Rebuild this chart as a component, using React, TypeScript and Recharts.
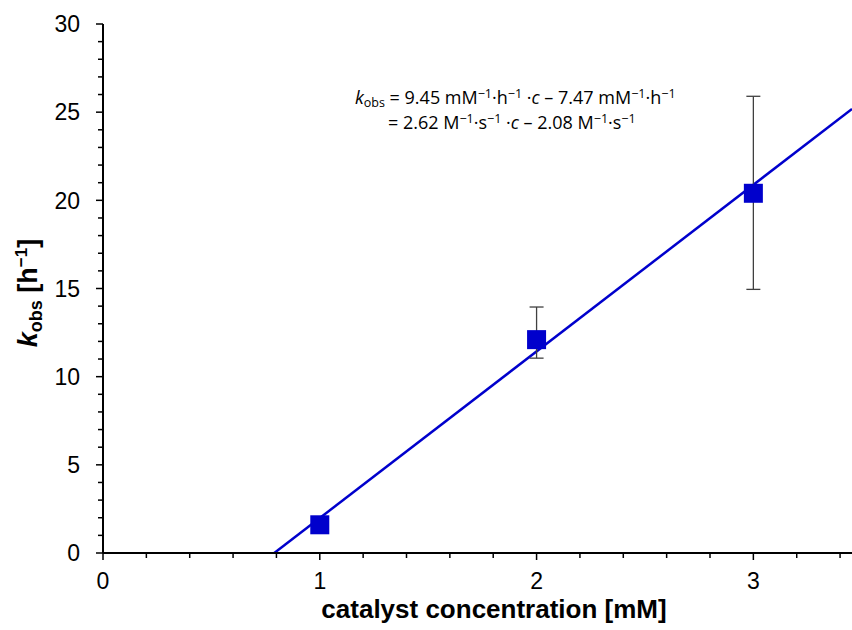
import React from 'react';
import {
  ComposedChart, XAxis, YAxis, Scatter, Line, ErrorBar, Customized,
} from 'recharts';

// ---- data ----
const concentrations = [1, 2, 3];
const kobsValues = [1.6, 12.1, 20.4];
const errLow = [0, 1.05, 5.45];
const errHigh = [0, 1.85, 5.5];
const fitX = [0.79, 3.455];
const fitY = [0, 25.18];
const xMajorTicks = [0, 1, 2, 3];
const yMajorTicks = [0, 5, 10, 15, 20, 25, 30];
const xAllTicks = Array.from({ length: 18 }, (_, i) => Math.round(i * 2) / 10);
const yAllTicks = Array.from({ length: 31 }, (_, i) => i);

const points = concentrations.map((c, i) => ({
  x: c,
  y: kobsValues[i],
  err: errLow[i] === 0 && errHigh[i] === 0 ? null : [errLow[i], errHigh[i]],
}));
const fitData = fitX.map((x, i) => ({ x, fit: fitY[i] }));

const BLUE = '#0000CC';
const FONT = '"Liberation Sans", Arial, sans-serif';
const EQ_FONT = '"Open Sans", "Liberation Sans", sans-serif';

const YTick = (props: any) => {
  const { x, y, payload } = props;
  const v = payload.value;
  const major = yMajorTicks.includes(v);
  return (
    <g>
      <line x1={x} x2={x - (major ? 7 : 5)} y1={y} y2={y} stroke="#000" strokeWidth={1.5} />
      {major && (
        <text x={x - 23} y={y} dy="0.36em" textAnchor="end" fontFamily={FONT} fontSize={23} fill="#000">
          {v}
        </text>
      )}
    </g>
  );
};

const XTick = (props: any) => {
  const { x, y, payload } = props;
  const v = Math.round(payload.value * 10) / 10;
  const major = xMajorTicks.includes(v);
  return (
    <g>
      <line x1={x} x2={x} y1={y} y2={y + (major ? 7 : 5)} stroke="#000" strokeWidth={1.5} />
      {major && (
        <text x={x} y={y + 36} textAnchor="middle" fontFamily={FONT} fontSize={23} fill="#000">
          {v}
        </text>
      )}
    </g>
  );
};

const Square = (props: any) => {
  const { cx, cy } = props;
  if (cx == null || cy == null) return null;
  return <rect x={cx - 9.5} y={cy - 9.5} width={19} height={19} fill={BLUE} />;
};

const SUP = 12.5;
const Annotations = () => (
  <g>
    {/* x axis title */}
    <text x={494} y={618} textAnchor="middle" fontFamily={FONT} fontSize={26} fontWeight="bold" fill="#000">
      catalyst concentration [mM]
    </text>
    {/* y axis title */}
    <text
      transform="translate(37,293) rotate(-90)"
      textAnchor="middle"
      fontFamily={FONT}
      fontSize={27}
      fontWeight="bold"
      fill="#000"
    >
      <tspan fontStyle="italic">k</tspan>
      <tspan fontSize={18} dy={5}>obs</tspan>
      <tspan dy={-5}> [h</tspan>
      <tspan fontSize={17} dy={-10}>−1</tspan>
      <tspan dy={10}>]</tspan>
    </text>
    {/* equation */}
    <text x={355} y={104} fontFamily={EQ_FONT} fontSize={18} fill="#000">
      <tspan fontStyle="italic">k</tspan>
      <tspan fontSize={SUP} dy={3}>obs</tspan>
      <tspan dy={-3}> = 9.45 mM</tspan>
      <tspan fontSize={SUP} dy={-6}>−1</tspan>
      <tspan dy={6}>·h</tspan>
      <tspan fontSize={SUP} dy={-6}>−1</tspan>
      <tspan dy={6}> ·</tspan>
      <tspan fontStyle="italic">c</tspan>
      <tspan> – 7.47 mM</tspan>
      <tspan fontSize={SUP} dy={-6}>−1</tspan>
      <tspan dy={6}>·h</tspan>
      <tspan fontSize={SUP} dy={-6}>−1</tspan>
    </text>
    <text x={388} y={129} fontFamily={EQ_FONT} fontSize={18} fill="#000">
      <tspan>= 2.62 M</tspan>
      <tspan fontSize={SUP} dy={-6}>−1</tspan>
      <tspan dy={6}>·s</tspan>
      <tspan fontSize={SUP} dy={-6}>−1</tspan>
      <tspan dy={6}> ·</tspan>
      <tspan fontStyle="italic">c</tspan>
      <tspan> – 2.08 M</tspan>
      <tspan fontSize={SUP} dy={-6}>−1</tspan>
      <tspan dy={6}>·s</tspan>
      <tspan fontSize={SUP} dy={-6}>−1</tspan>
    </text>
  </g>
);

export default function App() {
  return (
    <div style={{ position: 'absolute', left: 0, top: 0, width: 852, height: 630, background: '#fff' }}>
      <ComposedChart
        width={852}
        height={630}
        margin={{ top: 24, right: 0, bottom: 0, left: 0 }}
      >
        <XAxis
          type="number"
          dataKey="x"
          domain={[0, 3.455]}
          ticks={xAllTicks}
          interval={0}
          allowDataOverflow
          height={77}
          tickSize={0}
          tickMargin={0}
          tickLine={false}
          axisLine={{ stroke: '#000', strokeWidth: 2 }}
          tick={<XTick />}
        />
        <YAxis
          type="number"
          domain={[0, 30]}
          ticks={yAllTicks}
          interval={0}
          allowDataOverflow
          width={103}
          tickSize={0}
          tickMargin={0}
          tickLine={false}
          axisLine={{ stroke: '#000', strokeWidth: 2 }}
          tick={<YTick />}
        />
        <Line
          data={fitData}
          dataKey="fit"
          type="linear"
          stroke={BLUE}
          strokeWidth={2.5}
          dot={false}
          activeDot={false}
          isAnimationActive={false}
        />
        <Scatter data={points} dataKey="y" shape={<Square />} isAnimationActive={false}>
          <ErrorBar dataKey="err" direction="y" width={7} stroke="#404040" strokeWidth={1.3} />
        </Scatter>
        <Customized component={Annotations} />
      </ComposedChart>
    </div>
  );
}
